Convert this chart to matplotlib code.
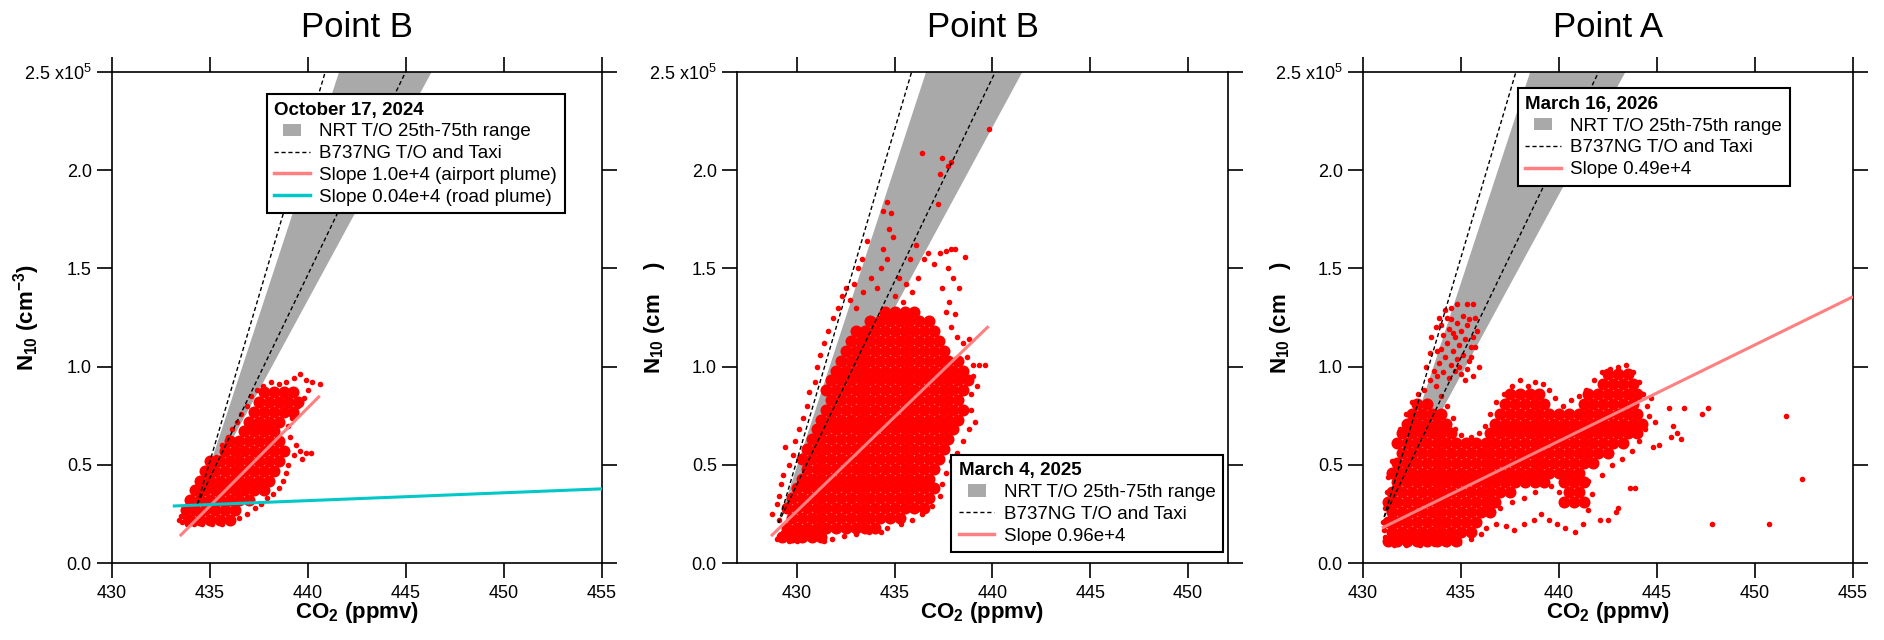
import matplotlib
matplotlib.use("Agg")
import matplotlib.pyplot as plt
import matplotlib.patches as mpatches
from matplotlib.lines import Line2D
from matplotlib.legend_handler import HandlerPatch
from matplotlib.ticker import FixedLocator, FuncFormatter

plt.rcParams['font.family'] = ['Liberation Sans', 'DejaVu Sans']
plt.rcParams['mathtext.fontset'] = 'custom'
plt.rcParams['mathtext.rm'] = 'Liberation Sans'
plt.rcParams['mathtext.it'] = 'Liberation Sans:italic'
plt.rcParams['mathtext.bf'] = 'Liberation Sans:bold'

# ---------------- data ----------------
titles = ['Point B', 'Point B', 'Point A']
dates = ['October 17, 2024', 'March 4, 2025', 'March 16, 2026']
xlims = [(430, 455), (426.93, 452.05), (430, 455)]
xticks = [[430, 435, 440, 445, 450, 455], [430, 435, 440, 445, 450], [430, 435, 440, 445, 450, 455]]
yticks = [0.0, 0.5, 1.0, 1.5, 2.0, 2.5]          # N10 in units of 1e5 cm^-3

# wedge origins (CO2 ppmv, N10 /1e5)
origin_x = [434.35, 429.05, 431.08]
origin_y = [0.30, 0.204, 0.235]
band_slopes = [1.84e4, 3.04e4]      # NRT T/O 25th-75th range (cm^-3 per ppmv)
b737_slopes = [2.07e4, 3.37e4]      # B737NG taxi / T/O

fit_slopes = [1.0e4, 0.96e4, 0.49e4]
fit_labels = ['Slope 1.0e+4 (airport plume)', 'Slope 0.96e+4', 'Slope 0.49e+4']
fit_x0 = [433.46, 428.67, 430.96]
fit_y0 = [0.137, 0.137, 0.178]
fit_x1 = [440.6, 439.8, 455.0]

road_slope = 0.04e4
road_label = 'Slope 0.04e+4 (road plume)'
road_x0, road_y0, road_x1 = 433.1, 0.29, 455.0

# scatter: dense core rows (y, list of x) and sparse points
p1_core_y = [0.22, 0.27, 0.32, 0.37, 0.42, 0.47, 0.52, 0.57, 0.62, 0.67, 0.72, 0.77, 0.82, 0.87]
p1_core_x = [
    [434.0, 434.5, 435.0, 435.5, 436.0],
    [433.75, 434.25, 434.75, 435.25, 435.75, 436.25],
    [434.0, 434.5, 435.0, 435.5, 436.0, 436.5, 437.0],
    [434.25, 434.75, 435.25, 435.75, 436.25, 436.75, 437.25, 437.75],
    [434.5, 435.0, 435.5, 436.0, 436.5, 437.0, 437.5, 438.0],
    [434.75, 435.25, 435.75, 436.25, 436.75, 437.25, 437.75, 438.25],
    [435.0, 435.5, 436.0, 436.5, 437.0, 437.5, 438.0, 438.5],
    [435.75, 436.25, 436.75, 437.25, 437.75, 438.25, 438.75],
    [436.0, 436.5, 437.0, 437.5, 438.0, 438.5],
    [436.75, 437.25, 437.75, 438.25],
    [437.0, 437.5, 438.0, 438.5],
    [437.25, 437.75, 438.25, 438.75, 439.25],
    [437.5, 438.0, 438.5, 439.0, 439.5],
    [437.75, 438.25, 438.75, 439.25],
]
p1_pts = [(433.4, 0.22), (433.55, 0.21), (433.7, 0.23), (433.5, 0.24), (433.85, 0.2), (434.2, 0.2),
          (434.6, 0.2), (435.1, 0.2), (435.6, 0.2), (436.1, 0.21), (436.5, 0.23), (436.9, 0.25),
          (437.3, 0.28), (437.6, 0.3), (437.9, 0.33), (438.2, 0.35), (438.5, 0.38), (438.7, 0.42),
          (438.9, 0.46), (439.0, 0.5), (439.3, 0.55), (439.6, 0.57), (439.9, 0.56), (440.15, 0.56),
          (439.7, 0.53), (439.4, 0.6), (439.1, 0.64), (439.0, 0.7), (439.2, 0.74), (439.5, 0.8),
          (439.8, 0.84), (440.0, 0.88), (440.2, 0.92), (440.6, 0.91), (439.9, 0.93), (439.6, 0.96),
          (439.3, 0.94), (438.9, 0.92), (438.5, 0.91), (438.1, 0.92), (437.7, 0.9), (437.4, 0.88),
          (437.1, 0.85), (436.9, 0.8), (436.6, 0.76), (436.4, 0.72), (436.1, 0.68), (435.9, 0.64),
          (435.6, 0.6), (435.3, 0.54), (435.0, 0.5), (434.7, 0.46), (434.4, 0.42), (434.2, 0.37),
          (434.0, 0.32), (433.8, 0.27), (434.9, 0.48)]

p2_core_y = [0.13, 0.18, 0.23, 0.28, 0.33, 0.38, 0.43, 0.48, 0.53, 0.58, 0.63, 0.68,
             0.73, 0.78, 0.83, 0.88, 0.93, 0.98, 1.03, 1.08, 1.13, 1.18, 1.23, 1.28]
p2_core_x = [
    [429.25, 429.75, 430.25, 430.75, 431.25],
    [429.5, 430.0, 430.5, 431.0, 431.5, 432.0, 432.5, 433.0, 433.5, 434.0],
    [429.75, 430.25, 430.75, 431.25, 431.75, 432.25, 432.75, 433.25, 433.75, 434.25, 434.75, 435.25],
    [429.5, 430.0, 430.5, 431.0, 431.5, 432.0, 432.5, 433.0, 433.5, 434.0, 434.5, 435.0, 435.5, 436.0, 436.5],
    [429.75, 430.25, 430.75, 431.25, 431.75, 432.25, 432.75, 433.25, 433.75, 434.25, 434.75, 435.25, 435.75, 436.25, 436.75],
    [430.0, 430.5, 431.0, 431.5, 432.0, 432.5, 433.0, 433.5, 434.0, 434.5, 435.0, 435.5, 436.0, 436.5, 437.0],
    [430.25, 430.75, 431.25, 431.75, 432.25, 432.75, 433.25, 433.75, 434.25, 434.75, 435.25, 435.75, 436.25, 436.75],
    [430.5, 431.0, 431.5, 432.0, 432.5, 433.0, 433.5, 434.0, 434.5, 435.0, 435.5, 436.0, 436.5, 437.0],
    [430.25, 430.75, 431.25, 431.75, 432.25, 432.75, 433.25, 433.75, 434.25, 434.75, 435.25, 435.75, 436.25, 436.75, 437.25],
    [430.5, 431.0, 431.5, 432.0, 432.5, 433.0, 433.5, 434.0, 434.5, 435.0, 435.5, 436.0, 436.5, 437.0, 437.5],
    [430.75, 431.25, 431.75, 432.25, 432.75, 433.25, 433.75, 434.25, 434.75, 435.25, 435.75, 436.25, 436.75, 437.25, 437.75],
    [431.0, 431.5, 432.0, 432.5, 433.0, 433.5, 434.0, 434.5, 435.0, 435.5, 436.0, 436.5, 437.0, 437.5, 438.0],
    [431.25, 431.75, 432.25, 432.75, 433.25, 433.75, 434.25, 434.75, 435.25, 435.75, 436.25, 436.75, 437.25, 437.75, 438.25],
    [431.5, 432.0, 432.5, 433.0, 433.5, 434.0, 434.5, 435.0, 435.5, 436.0, 436.5, 437.0, 437.5, 438.0, 438.5],
    [431.75, 432.25, 432.75, 433.25, 433.75, 434.25, 434.75, 435.25, 435.75, 436.25, 436.75, 437.25, 437.75, 438.25],
    [431.5, 432.0, 432.5, 433.0, 433.5, 434.0, 434.5, 435.0, 435.5, 436.0, 436.5, 437.0, 437.5, 438.0, 438.5],
    [431.75, 432.25, 432.75, 433.25, 433.75, 434.25, 434.75, 435.25, 435.75, 436.25, 436.75, 437.25, 437.75, 438.25, 438.75],
    [432.0, 432.5, 433.0, 433.5, 434.0, 434.5, 435.0, 435.5, 436.0, 436.5, 437.0, 437.5, 438.0, 438.5],
    [432.25, 432.75, 433.25, 433.75, 434.25, 434.75, 435.25, 435.75, 436.25, 436.75, 437.25, 437.75, 438.25],
    [432.5, 433.0, 433.5, 434.0, 434.5, 435.0, 435.5, 436.0, 436.5, 437.0, 437.5],
    [432.75, 433.25, 433.75, 434.25, 434.75, 435.25, 435.75, 436.25, 436.75, 437.25],
    [433.0, 433.5, 434.0, 434.5, 435.0, 435.5, 436.0, 436.5, 437.0],
    [433.75, 434.25, 434.75, 435.25, 435.75, 436.25, 436.75],
    [434.5, 435.0, 435.5, 436.0],
]
p2_pts = [(428.7, 0.25), (429.0, 0.12), (429.0, 0.3), (429.1, 0.34), (429.2, 0.4), (429.4, 0.59),
          (429.3, 0.45), (429.6, 0.5), (429.8, 0.55), (429.9, 0.62), (430.1, 0.68), (430.3, 0.74),
          (430.5, 0.8), (430.6, 0.87), (430.9, 0.92), (431.0, 1.0), (431.2, 1.06), (431.4, 1.12),
          (431.6, 1.18), (431.85, 1.25), (432.1, 1.3), (432.3, 1.36), (432.5, 1.4), (432.7, 1.34),
          (432.9, 1.42), (433.1, 1.5), (433.3, 1.55), (433.6, 1.64), (433.0, 1.3), (433.4, 1.38),
          (433.8, 1.45), (434.1, 1.4), (434.3, 1.5), (434.6, 1.55), (434.4, 1.6), (434.9, 1.66),
          (434.4, 1.79), (434.6, 1.84), (434.8, 1.78), (434.7, 1.7), (436.4, 2.09), (437.4, 2.06),
          (437.3, 1.98), (437.7, 2.02), (437.9, 2.04), (437.2, 1.83), (439.8, 2.21), (435.2, 1.45),
          (435.6, 1.42), (435.0, 1.36), (435.4, 1.33), (435.9, 1.38), (436.2, 1.45), (435.8, 1.55),
          (436.1, 1.62), (436.5, 1.55), (436.7, 1.58), (437.0, 1.52), (437.3, 1.58), (437.6, 1.59),
          (437.9, 1.6), (438.1, 1.6), (438.6, 1.56), (437.7, 1.5), (438.0, 1.45), (438.3, 1.4),
          (437.4, 1.4), (437.8, 1.33), (438.1, 1.27), (437.6, 1.28), (437.9, 1.2), (438.2, 1.15),
          (438.5, 1.12), (438.8, 1.14), (438.7, 1.05), (439.0, 1.01), (439.3, 1.01), (439.6, 1.01),
          (439.0, 0.95), (439.2, 0.9), (438.9, 0.86), (438.9, 0.78), (439.1, 0.72), (438.8, 0.68),
          (438.5, 0.62), (438.2, 0.56), (437.9, 0.52), (437.6, 0.46), (437.4, 0.4), (437.3, 0.34),
          (436.9, 0.29), (436.4, 0.25), (435.9, 0.22), (435.3, 0.2), (434.6, 0.18), (434.3, 0.16),
          (433.7, 0.16), (433.0, 0.15), (432.4, 0.14), (431.8, 0.12), (431.4, 0.11), (430.0, 0.11),
          (429.6, 0.11), (429.3, 0.16), (429.1, 0.22)]

p3_core_y = [0.11, 0.16, 0.21, 0.26, 0.31, 0.36, 0.41, 0.46, 0.51, 0.56, 0.61, 0.66, 0.71,
             0.76, 0.81, 0.86, 0.91, 0.96]
p3_core_x = [
    [431.25, 431.75, 432.25, 432.75, 433.25, 433.75, 434.25, 434.75],
    [431.5, 432.0, 432.5, 433.0, 433.5, 434.0, 434.5, 435.0, 435.5],
    [431.25, 431.75, 432.25, 432.75, 433.25, 433.75, 434.25, 434.75, 435.25, 435.75],
    [431.5, 432.0, 432.5, 433.0, 433.5, 434.0, 434.5, 435.0, 435.5, 436.0, 436.5],
    [431.25, 431.75, 432.25, 432.75, 433.25, 433.75, 434.25, 434.75, 435.25, 435.75, 436.25, 436.75,
     440.25, 440.75, 441.25],
    [431.5, 432.0, 432.5, 433.0, 433.5, 434.0, 434.5, 435.0, 435.5, 436.0, 436.5, 437.0, 437.5,
     440.5, 441.0],
    [431.75, 432.25, 432.75, 433.25, 433.75, 434.25, 434.75, 435.25, 435.75, 436.25, 436.75, 437.25,
     437.75, 438.25, 438.75, 439.25, 440.25, 440.75, 441.25],
    [431.5, 432.0, 432.5, 433.0, 433.5, 434.0, 434.5, 435.0, 435.5, 436.0, 436.5, 437.0, 437.5, 438.0,
     438.5, 439.0, 439.5, 440.0, 440.5, 441.0],
    [431.75, 432.25, 432.75, 433.25, 433.75, 434.25, 434.75, 435.25, 435.75, 436.25, 436.75, 437.25,
     437.75, 438.25, 438.75, 439.25, 439.75, 440.25, 440.75, 441.25, 441.75],
    [432.0, 432.5, 433.0, 433.5, 434.0, 434.5, 435.0, 435.5, 436.0, 436.5, 437.0, 437.5, 438.0, 438.5,
     439.0, 439.5, 440.0, 440.5, 441.0, 441.5, 442.0, 442.5],
    [431.75, 432.25, 432.75, 433.25, 433.75, 434.25, 434.75, 435.25, 435.75, 436.25, 436.75, 437.25,
     437.75, 438.25, 438.75, 439.25, 439.75, 440.25, 440.75, 441.25, 441.75, 442.25, 442.75, 443.25],
    [432.0, 432.5, 433.0, 433.5, 434.0, 434.5, 436.5, 437.0, 437.5, 438.0, 438.5, 439.0, 439.5, 440.0,
     440.5, 441.0, 441.5, 442.0, 442.5, 443.0, 443.5, 444.0],
    [432.25, 432.75, 433.25, 433.75, 434.25, 436.75, 437.25, 437.75, 438.25, 438.75, 439.25, 439.75,
     440.25, 440.75, 441.25, 441.75, 442.25, 442.75, 443.25, 443.75, 444.25],
    [432.5, 433.0, 433.5, 434.0, 437.0, 437.5, 438.0, 438.5, 439.0, 439.5, 440.0, 440.5, 441.0, 441.5,
     442.0, 442.5, 443.0, 443.5, 444.0],
    [432.75, 433.25, 437.25, 437.75, 438.25, 438.75, 439.25, 441.25, 441.75, 442.25, 442.75, 443.25,
     443.75],
    [437.5, 438.0, 438.5, 439.0, 441.5, 442.0, 442.5, 443.0, 443.5, 444.0],
    [442.25, 442.75, 443.25, 443.75],
    [442.5, 443.0, 443.5],
]
p3_pts = [(431.0, 0.21), (431.05, 0.17), (431.1, 0.13), (431.3, 0.1), (431.6, 0.09), (432.2, 0.09),
          (432.9, 0.09), (433.6, 0.095), (434.3, 0.095), (434.9, 0.1), (435.5, 0.12), (436.0, 0.15),
          (436.3, 0.18), (436.8, 0.2), (437.3, 0.19), (437.7, 0.17), (438.2, 0.2), (438.7, 0.22),
          (439.1, 0.25), (439.5, 0.22), (439.9, 0.2), (440.3, 0.18), (440.8, 0.16), (441.2, 0.2),
          (441.5, 0.27), (441.7, 0.35), (441.5, 0.42), (440.0, 0.36), (439.6, 0.39), (437.0, 0.28),
          (437.6, 0.31), (438.2, 0.33), (438.8, 0.36), (442.1, 0.22), (442.5, 0.22), (443.0, 0.28),
          (443.6, 0.38), (442.2, 0.45), (442.7, 0.5), (443.2, 0.53), (443.7, 0.57), (444.1, 0.62),
          (444.4, 0.68), (444.6, 0.75), (444.5, 0.8), (444.3, 0.86), (444.1, 0.92), (443.8, 0.97),
          (443.4, 1.01), (443.0, 1.0), (442.6, 0.99), (442.2, 0.97), (441.8, 0.93), (441.4, 0.88),
          (441.0, 0.85), (440.6, 0.83), (440.2, 0.8), (439.8, 0.84), (439.5, 0.88), (439.2, 0.91),
          (438.8, 0.92), (438.4, 0.9), (438.0, 0.93), (437.6, 0.9), (437.2, 0.86), (436.8, 0.82),
          (436.5, 0.76), (436.2, 0.7), (435.9, 0.66), (435.5, 0.64), (435.0, 0.65), (434.7, 0.68),
          (434.6, 0.74), (434.3, 0.8), (434.0, 0.85), (433.7, 0.9), (433.4, 0.93), (433.1, 0.88),
          (432.8, 0.86), (432.5, 0.82), (432.2, 0.76), (431.9, 0.68), (431.7, 0.6), (431.5, 0.52),
          (431.3, 0.44), (431.2, 0.36), (431.1, 0.28), (433.2, 1.0), (433.4, 1.07), (433.46, 1.15),
          (433.7, 1.2), (433.9, 1.25), (434.2, 1.29), (434.5, 1.3), (434.8, 1.32), (435.3, 1.32),
          (435.6, 1.32), (435.7, 1.25), (435.8, 1.18), (435.7, 1.1), (435.9, 1.0), (435.6, 0.95),
          (433.8, 0.95), (434.1, 0.97), (434.4, 0.94), (434.7, 0.98), (435.0, 0.96), (435.3, 0.99),
          (433.9, 1.02), (434.2, 1.05), (434.5, 1.01), (434.8, 1.04), (435.1, 1.06), (435.4, 1.03),
          (434.0, 1.09), (434.3, 1.12), (434.6, 1.08), (434.9, 1.11), (435.2, 1.14), (435.5, 1.1),
          (434.1, 1.16), (434.4, 1.19), (434.7, 1.15), (435.0, 1.18), (435.3, 1.21), (434.5, 1.24),
          (434.8, 1.22), (435.1, 1.26), (435.4, 1.24), (434.3, 1.25), (433.6, 0.98), (433.8, 1.08),
          (434.0, 1.21), (435.6, 1.15), (435.5, 1.05), (434.6, 1.17), (434.9, 1.0), (435.2, 0.93),
          (444.8, 0.59), (445.1, 0.6), (445.6, 0.79), (446.4, 0.79), (445.8, 0.7), (446.0, 0.66),
          (445.7, 0.64), (446.2, 0.63), (447.3, 0.76), (447.6, 0.79), (451.6, 0.75), (452.4, 0.43),
          (447.8, 0.2), (450.7, 0.2), (444.7, 0.84), (444.9, 0.72), (443.9, 0.38), (442.9, 0.26)]

core_y = [p1_core_y, p2_core_y, p3_core_y]
core_x = [p1_core_x, p2_core_x, p3_core_x]
sparse_pts = [p1_pts, p2_pts, p3_pts]

# ---------------- style ----------------
BAND = '#a9a9a9'
PINK = '#ff8080'
CYAN = '#00c8c8'
RED = '#ff0000'
DASH = (0, (3, 2))
YTOP = 2.62

W, H = 1884, 640
lefts_px = [112, 737, 1363]
widths_px = [490, 491, 490]
top_px, bot_px = 72, 563
legend_loc = ['upper left', 'lower right', 'upper left']
legend_anchor = [(0.316, 0.955), (0.99, 0.022), (0.316, 0.967)]
ylabels = [r'N$\mathregular{_{10}}$ (cm$\mathregular{^{-3}}$)',
           r'N$\mathregular{_{10}}$ (cm    )',
           r'N$\mathregular{_{10}}$ (cm    )']


def small_box(legend, orig_handle, xdescent, ydescent, width, height, fontsize):
    w = 0.5 * width
    h = 0.95 * height
    return mpatches.Rectangle((-xdescent + (width - w) / 2, -ydescent + (height - h) / 2), w, h)


def yfmt(v, pos):
    if abs(v - 2.5) < 1e-9:
        return r'2.5 x10$\mathregular{^{5}}$'
    return f'{v:.1f}'


fig = plt.figure(figsize=(W / 100, H / 100), dpi=100)

for i in range(3):
    ax = fig.add_axes([lefts_px[i] / W, (H - bot_px) / H, widths_px[i] / W, (bot_px - top_px) / H])
    ax.set_xlim(*xlims[i])
    ax.set_ylim(0, 2.5)
    x0, y0 = origin_x[i], origin_y[i]

    # NRT T/O band
    xl = x0 + (YTOP - y0) / (band_slopes[1] / 1e5)
    xr = x0 + (YTOP - y0) / (band_slopes[0] / 1e5)
    ax.fill([x0, xl, xr], [y0, YTOP, YTOP], color=BAND, lw=0, zorder=1)

    # scatter
    cx, cy = [], []
    for yv, row in zip(core_y[i], core_x[i]):
        cx.extend(row)
        cy.extend([yv] * len(row))
    ax.scatter(cx, cy, s=75, color=RED, linewidths=0, zorder=2)
    sx = [p[0] for p in sparse_pts[i]]
    sy = [p[1] for p in sparse_pts[i]]
    ax.scatter(sx, sy, s=16, color=RED, linewidths=0, zorder=2)

    # B737NG lines
    for s in b737_slopes:
        ax.plot([x0, x0 + (YTOP - y0) / (s / 1e5)], [y0, YTOP], color='k', ls=DASH, lw=1.0, zorder=3)

    # fit line
    fx = [fit_x0[i], fit_x1[i]]
    fy = [fit_y0[i], fit_y0[i] + fit_slopes[i] / 1e5 * (fit_x1[i] - fit_x0[i])]
    ax.plot(fx, fy, color=PINK, lw=2.2, zorder=4, solid_capstyle='butt')

    handles = [mpatches.Patch(facecolor=BAND, edgecolor='none'),
               Line2D([], [], color='k', ls=DASH, lw=1.0),
               Line2D([], [], color=PINK, lw=2.5)]
    labels = ['NRT T/O 25th-75th range', 'B737NG T/O and Taxi', fit_labels[i]]
    if i == 0:
        ax.plot([road_x0, road_x1], [road_y0, road_y0 + road_slope / 1e5 * (road_x1 - road_x0)],
                color=CYAN, lw=2.2, zorder=4, solid_capstyle='butt')
        handles.append(Line2D([], [], color=CYAN, lw=2.5))
        labels.append(road_label)

    leg = ax.legend(handles, labels, loc=legend_loc[i], bbox_to_anchor=legend_anchor[i],
                    borderaxespad=0, title=dates[i],
                    title_fontproperties={'weight': 'bold', 'size': 13.5}, alignment='left',
                    fontsize=13.5, frameon=True, fancybox=False, edgecolor='black', framealpha=1,
                    handlelength=1.9, handletextpad=0.5, labelspacing=0.25, borderpad=0.4,
                    handler_map={mpatches.Patch: HandlerPatch(patch_func=small_box)})
    leg.get_frame().set_linewidth(1.5)
    leg.set_zorder(6)

    ax.xaxis.set_major_locator(FixedLocator(xticks[i]))
    ax.yaxis.set_major_locator(FixedLocator(yticks))
    ax.yaxis.set_major_formatter(FuncFormatter(yfmt))
    ax.tick_params(which='both', direction='out', length=10.5, width=1.2, top=True, right=True,
                   labelsize=13)
    ax.tick_params(axis='x', pad=5.5)
    ax.tick_params(axis='y', pad=4)
    for sp in ax.spines.values():
        sp.set_linewidth(1.2)

    ax.set_title(titles[i], fontsize=25, pad=25, y=1.0)
    ax.set_xlabel(r'CO$\mathregular{_2}$ (ppmv)', fontsize=16, fontweight='bold')
    ax.xaxis.set_label_coords(0.5, -0.075)
    ax.set_ylabel(ylabels[i], fontsize=16, fontweight='bold')
    ax.yaxis.set_label_coords(-0.143, 0.5)

fig.savefig('out.png', dpi=100)
